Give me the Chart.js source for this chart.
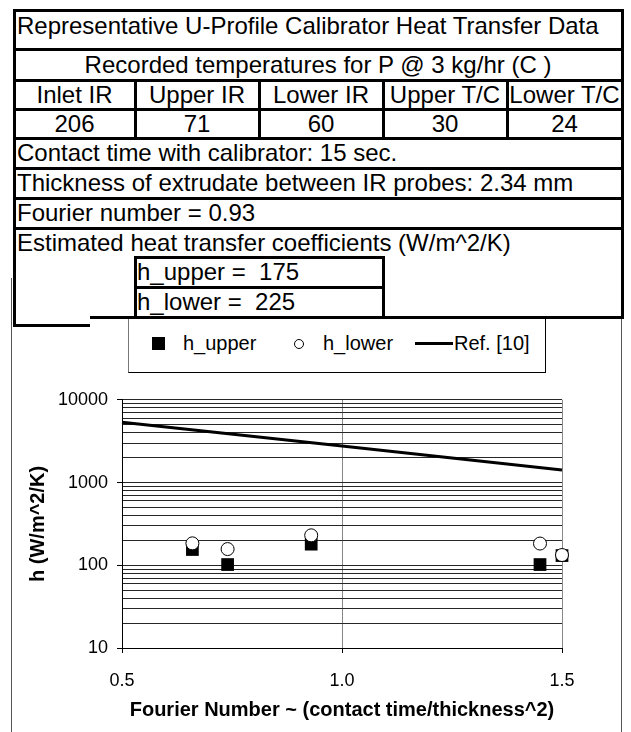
<!DOCTYPE html>
<html lang="en">
<head>
    <meta charset="UTF-8" />
    <title>U-Profile Calibrator Heat Transfer Data</title>
    <style>
        body {
            margin: 0;
            background: #fff;
            font-family: 'Liberation Sans', Arial, sans-serif;
            color: #000;
        }
        .page {
            position: relative;
            width: 631px;
            height: 732px;
            overflow: hidden;
        }
        .ln { position: absolute; background: #000; }
        .frame { position: absolute; background: #555; width: 1px; }
        .txt {
            position: absolute;
            font-size: 24px;
            white-space: pre;
        }
        .legend {
            position: absolute;
            left: 128px;
            top: 316px;
            width: 416px;
            height: 56px;
            border-left: 1px solid #777;
            border-right: 1px solid #000;
            border-bottom: 1px solid #000;
            font-size: 20px;
        }
        .legend span { position: absolute; }
        .legend .lbl { top: 15px; line-height: 24px; white-space: nowrap; }
        #chartBox {
            position: absolute;
            left: 0;
            top: 380px;
            width: 631px;
            height: 352px;
        }
    </style>
</head>
<body>
<div class="page" id="page">
    <div class="frame" style="left:11px; top:278px; height:454px;"></div>
    <div class="frame" style="left:621px; top:317px; height:415px;"></div>

    <div class="legend">
        <span style="left:23px; top:21px; width:13px; height:13px; background:#000;"></span>
        <span class="lbl" style="left:54px;">h_upper</span>
        <span style="left:165px; top:23px; width:10px; height:10px; border:1px solid #000; border-radius:50%; box-sizing:border-box;"></span>
        <span class="lbl" style="left:194px;">h_lower</span>
        <span style="left:286px; top:26px; width:38px; height:3px; background:#000;"></span>
        <span class="lbl" style="left:325px;">Ref. [10]</span>
    </div>

    <div id="chartBox"><canvas id="heatChart" width="631" height="352"></canvas></div>
</div>

<script src="https://cdn.jsdelivr.net/npm/chart.js"></script>
<script>
    // table text
    const tableTitle = 'Representative U-Profile Calibrator Heat Transfer Data';
    const tempCaption = 'Recorded temperatures for P @ 3 kg/hr (C )';
    const tempHeaders = ['Inlet IR', 'Upper IR', 'Lower IR', 'Upper T/C', 'Lower T/C'];
    const tempValues = [206, 71, 60, 30, 24];
    const infoLines = [
        'Contact time with calibrator: 15 sec.',
        'Thickness of extrudate between IR probes: 2.34 mm',
        'Fourier number = 0.93',
        'Estimated heat transfer coefficients (W/m^2/K)'
    ];
    const hLabels = ['h_upper =  175', 'h_lower =  225'];

    // chart data
    const fourierNo = [0.66, 0.74, 0.93, 1.45, 1.5];
    const hUpper = [155, 102, 180, 102, 131];
    const hLower = [184, 157, 230, 183, 133];
    const refX = [0.5, 1.0, 1.5];
    const refH = [5350, 2760, 1420];
    const xTickLabels = ['0.5', '1.0', '1.5'];
    const yTickLabels = ['10', '100', '1000', '10000'];

    // ---- table drawn with divs ----
    const page = document.getElementById('page');
    function hline(y, x1, x2) {
        const d = document.createElement('div');
        d.className = 'ln';
        d.style.cssText = `left:${x1}px; top:${y - 1}px; width:${x2 - x1}px; height:3px;`;
        page.appendChild(d);
    }
    function vline(x, y1, y2) {
        const d = document.createElement('div');
        d.className = 'ln';
        d.style.cssText = `left:${x - 1}px; top:${y1 - 1}px; width:3px; height:${y2 - y1 + 2}px;`;
        page.appendChild(d);
    }
    function text(str, x, y, w, h, align) {
        const d = document.createElement('div');
        d.className = 'txt';
        d.textContent = str;
        d.style.cssText = `left:${x}px; top:${y}px; width:${w}px; height:${h}px; line-height:${h}px; text-align:${align};`;
        page.appendChild(d);
    }

    const L = 14, R = 622;
    const rowY = [10, 49, 80, 109, 138, 168, 198, 228];
    const colX = [L, 135, 259, 383, 507, R];

    rowY.forEach(y => hline(y, L, R + 2));
    hline(317, 90, R + 2);
    hline(325, L - 1, 90);
    vline(L, 10, 325);
    vline(R, 10, 317);
    for (let i = 1; i < 5; i++) vline(colX[i], 80, 138);
    // h box
    hline(257, 135, 384);
    hline(287, 135, 384);
    vline(135, 257, 317);
    vline(383, 257, 317);

    text(tableTitle, 17, 10, 600, 32, 'left');
    text(tempCaption, L, 49, R - L, 31, 'center');
    tempHeaders.forEach((h, i) => text(h, colX[i], 80, colX[i + 1] - colX[i], 29, 'center'));
    tempValues.forEach((v, i) => text(String(v), colX[i], 109, colX[i + 1] - colX[i], 29, 'center'));
    infoLines.forEach((s, i) => text(s, 17, rowY[i + 4], 600, 29, 'left'));
    text(hLabels[0], 137, 257, 240, 30, 'left');
    text(hLabels[1], 137, 287, 240, 30, 'left');

    // ---- chart ----
    Chart.defaults.font.family = "'Liberation Sans', Arial, sans-serif";
    Chart.defaults.color = '#000';

    const yGrid = [];
    for (let d = 10; d < 10000; d *= 10) {
        for (let k = 1; k < 10; k++) yGrid.push(d * k);
    }
    yGrid.push(10000);
    const isMajor = v => yTickLabels.includes(String(v));

    new Chart(document.getElementById('heatChart'), {
        type: 'scatter',
        data: {
            datasets: [
                {
                    label: 'h_lower',
                    data: fourierNo.map((x, i) => ({ x: x, y: hLower[i] })),
                    pointStyle: 'circle',
                    pointRadius: 6.5,
                    backgroundColor: '#fff',
                    borderColor: '#000',
                    borderWidth: 1,
                    clip: false,
                    order: 1
                },
                {
                    label: 'h_upper',
                    data: fourierNo.map((x, i) => ({ x: x, y: hUpper[i] })),
                    pointStyle: 'rect',
                    pointRadius: 9,
                    backgroundColor: '#000',
                    borderColor: '#000',
                    borderWidth: 0,
                    clip: false,
                    order: 2
                },
                {
                    label: 'Ref. [10]',
                    data: refX.map((x, i) => ({ x: x, y: refH[i] })),
                    showLine: true,
                    pointRadius: 0,
                    borderColor: '#000',
                    borderWidth: 3,
                    clip: false,
                    order: 3
                }
            ]
        },
        options: {
            responsive: false,
            animation: false,
            layout: { padding: { left: 0, right: 69, top: 12, bottom: 0 } },
            plugins: { legend: { display: false }, tooltip: { enabled: false } },
            scales: {
                x: {
                    type: 'linear',
                    min: 0.5,
                    max: 1.5,
                    afterBuildTicks: s => { s.ticks = xTickLabels.map(t => ({ value: parseFloat(t) })); },
                    afterFit: s => { s.height = 84; },
                    ticks: {
                        callback: (v, i) => xTickLabels[i],
                        font: { size: 18 },
                        padding: 17,
                        maxRotation: 0
                    },
                    grid: {
                        color: c => c.tick && c.tick.value === 0.5 ? '#000' : '#888',
                        tickColor: '#000',
                        tickLength: 5
                    },
                    border: { color: '#000', width: 1 },
                    title: {
                        display: true,
                        text: 'Fourier Number ~ (contact time/thickness^2)',
                        font: { size: 20, weight: 'bold' },
                        padding: { top: 0, bottom: 10 }
                    }
                },
                y: {
                    type: 'logarithmic',
                    min: 10,
                    max: 10000,
                    afterBuildTicks: s => { s.ticks = yGrid.map(v => ({ value: v })); },
                    afterFit: s => { s.width = 122; },
                    ticks: {
                        autoSkip: false,
                        callback: v => isMajor(v) ? String(v) : '',
                        font: { size: 18 },
                        padding: 9
                    },
                    grid: {
                        color: '#262626',
                        tickColor: c => c.tick && isMajor(c.tick.value) ? '#000' : 'rgba(0,0,0,0)',
                        tickLength: 5
                    },
                    border: { color: '#000', width: 1 },
                    title: {
                        display: true,
                        text: 'h (W/m^2/K)',
                        font: { size: 20, weight: 'bold' },
                        padding: { top: 26, bottom: 0 }
                    }
                }
            }
        }
    });
</script>
</body>
</html>
